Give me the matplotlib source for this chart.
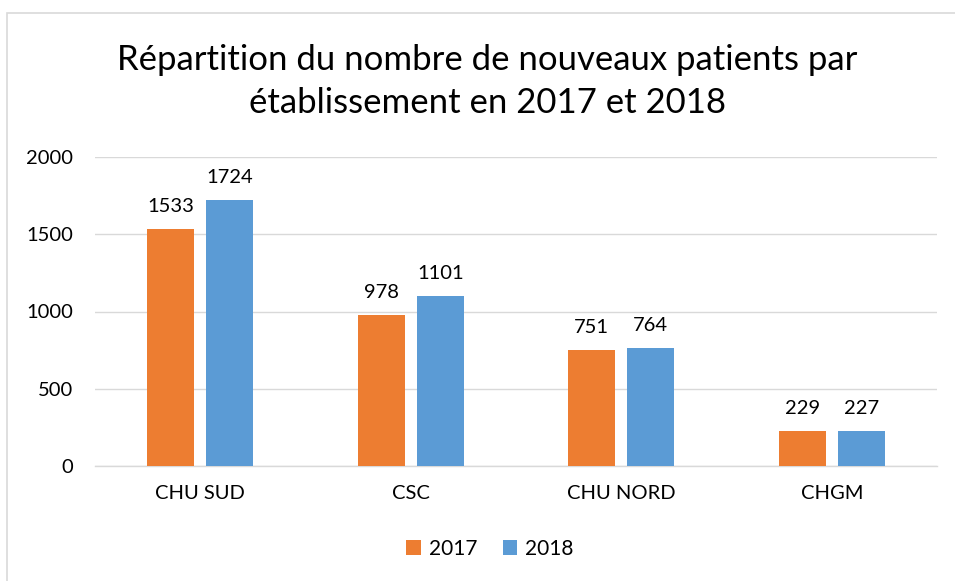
import matplotlib
matplotlib.use("Agg")
import matplotlib.pyplot as plt
import numpy as np

categories = ["CHU SUD", "CSC", "CHU NORD", "CHGM"]
v2017 = [1533, 978, 751, 229]
v2018 = [1724, 1101, 764, 227]
series_labels = ["2017", "2018"]
yticks = [0, 500, 1000, 1500, 2000]

plt.rcParams['font.family'] = ['Lato', 'DejaVu Sans']
W, H = 955, 581
fig = plt.figure(figsize=(W/100, H/100), dpi=100)
ax = fig.add_axes([95/W, 1-466/H, (937-95)/W, (466-157)/H])

x = np.arange(len(categories))
bw = 0.223
off = 0.14
c17, c18 = "#ED7D31", "#5B9BD5"
b1 = ax.bar(x-off, v2017, bw, color=c17, label=series_labels[0], zorder=3)
b2 = ax.bar(x+off, v2018, bw, color=c18, label=series_labels[1], zorder=3)
for bars, vals in ((b1, v2017), (b2, v2018)):
    for r, v in zip(bars, vals):
        ax.annotate(str(v), (r.get_x()+r.get_width()/2, v), xytext=(0, 10),
                    textcoords="offset points", ha="center", va="bottom",
                    fontsize=14.5, color="#000000")

ax.set_xlim(-0.5, 3.5)
ax.set_ylim(0, 2000)
ax.set_yticks(yticks)
ax.set_yticklabels([str(t) for t in yticks], fontsize=14.5)
ax.set_xticks(x)
ax.set_xticklabels(categories, fontsize=14.5)
ax.tick_params(axis='x', length=0, pad=14)
ax.tick_params(axis='y', length=0, pad=16)
ax.yaxis.grid(True, color="#D9D9D9", linewidth=1, zorder=0)
for s in ["top", "right", "left"]:
    ax.spines[s].set_visible(False)
ax.spines["bottom"].set_color("#D9D9D9")
ax.spines["bottom"].set_linewidth(1)

fig.text(487/W, 1-60/H, "Répartition du nombre de nouveaux patients par", ha="center", va="center", fontsize=25)
fig.text(487/W, 1-103/H, "établissement en 2017 et 2018", ha="center", va="center", fontsize=25)

leg = fig.legend(handles=[b1, b2], labels=series_labels, loc="center", bbox_to_anchor=(490/W, 1-549/H),
                 ncol=2, frameon=False, fontsize=15, handlelength=0.7, handleheight=0.7,
                 columnspacing=1.2, handletextpad=0.4)

fig.add_artist(plt.Rectangle((7/W, -0.1), 1.2, 1-13/H+0.1, transform=fig.transFigure,
                             fill=False, edgecolor="#D9D9D9", linewidth=1.2))

fig.savefig("out.png", dpi=100)
